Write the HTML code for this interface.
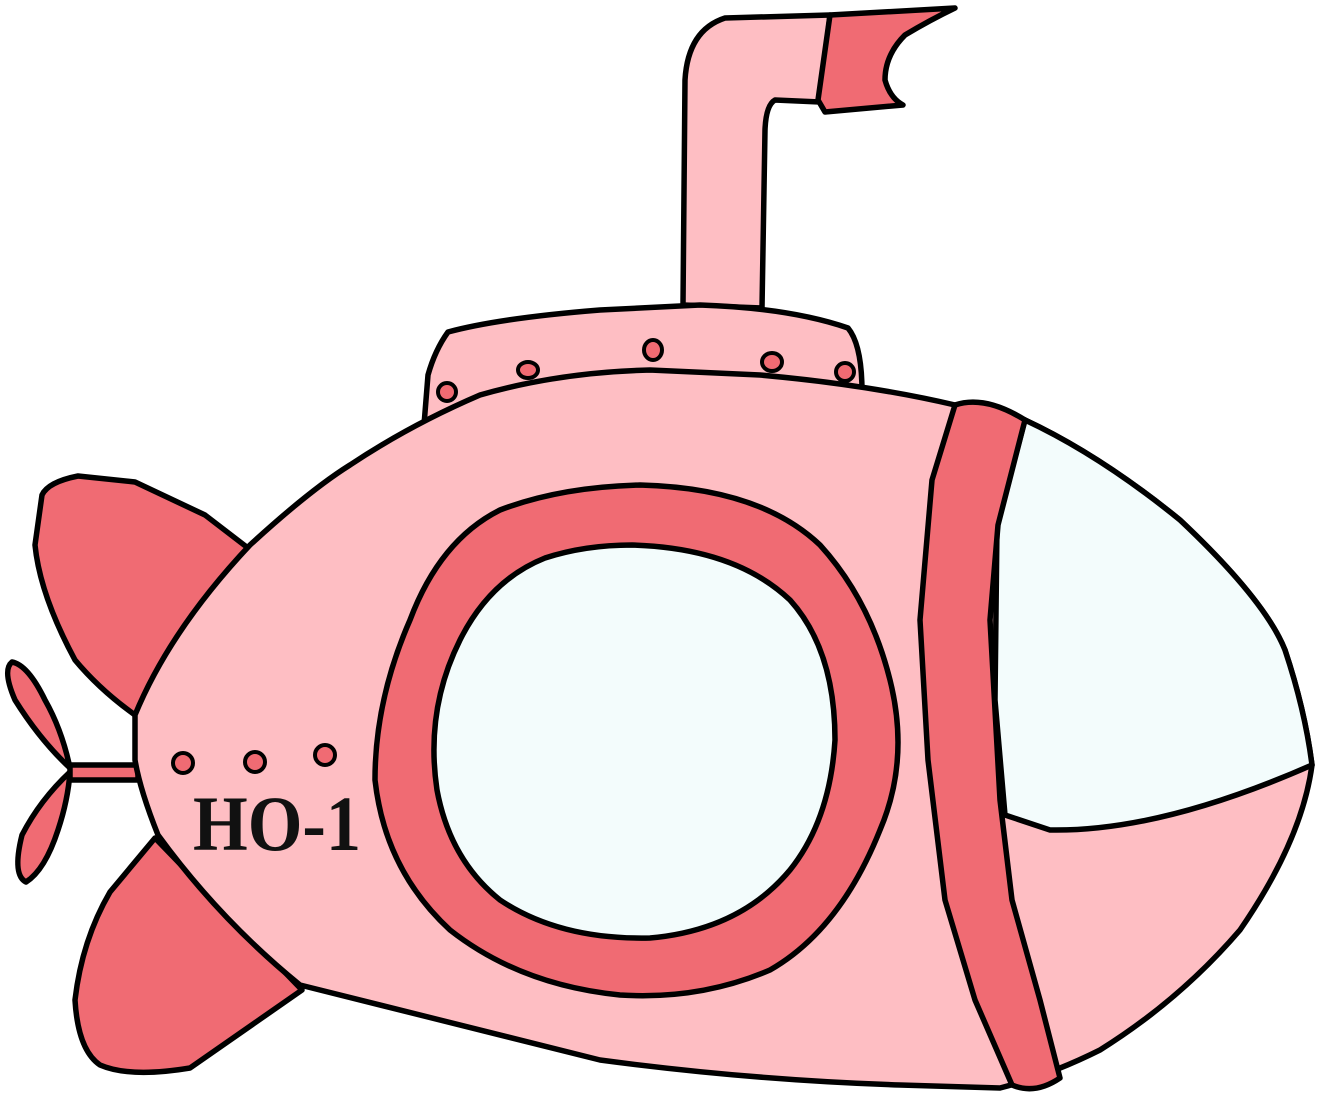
<!DOCTYPE html>
<html><head><meta charset="utf-8"><style>
html,body{margin:0;padding:0;background:#fff;}
svg{display:block;}
</style></head><body>
<svg width="1319" height="1116" viewBox="0 0 1319 1116" xmlns="http://www.w3.org/2000/svg">
<g stroke="#000" stroke-width="5.5" stroke-linejoin="round" stroke-linecap="round">
  <path fill="#FEBEC3" d="M683,305 L685,80 Q688,30 725,18 L830,15 L820,102 L775,100 Q766,105 765,130 L762,308 Z"/>
  <path fill="#F06B73" d="M830,15 L955,8 Q930,20 905,35 Q885,55 885,80 Q890,98 903,105 L825,112 L818,100 Z"/>
  <path fill="#FEBEC3" d="M424,425 L428,375 Q435,350 448,332 Q500,318 600,310 L700,305 Q790,308 848,328 Q862,345 862,392 Z"/>
  <path fill="#F06B73" d="M248,548 L205,515 L135,482 L78,476 Q48,482 42,495 L35,545 Q40,595 75,660 Q100,690 135,715 Z"/>
  <path fill="#F06B73" d="M155,838 L110,892 Q82,940 75,1000 Q78,1050 100,1065 Q130,1078 190,1068 L302,990 Z"/>
  <path fill="#F06B73" d="M70,768 Q40,740 15,700 Q2,670 12,662 Q28,665 45,700 Q62,730 70,768 Z"/>
  <path fill="#F06B73" d="M70,772 Q40,800 22,835 Q12,875 26,882 Q45,870 58,830 Q68,800 70,772 Z"/>
  <rect x="70" y="765" width="68" height="15" fill="#F06B73"/>
  <path fill="#FEBEC3" d="M135,715 Q170,630 250,545 Q310,490 350,465 Q410,425 480,395 Q560,372 650,370 L760,375 Q870,385 955,405 L1025,420 Q1100,455 1180,520 Q1265,600 1285,650 Q1305,710 1312,765 Q1302,840 1240,930 Q1180,1000 1100,1050 Q1050,1075 1000,1088 L900,1085 Q750,1080 600,1060 Q450,1022 300,985 Q220,920 158,835 Q140,790 135,760 Z"/>
  <path fill="#F3FCFC" d="M1025,420 Q1100,455 1180,520 Q1265,600 1285,650 Q1305,710 1312,765 Q1160,832 1050,830 L1005,815 L995,700 L997,525 Z"/>
  <path fill="#F06B73" d="M955,405 Q985,395 1025,420 L998,525 L990,620 L1000,800 L1012,900 L1040,1000 L1060,1078 Q1035,1095 1012,1085 L975,1000 L945,900 L928,760 L920,620 L932,480 Z"/>
  <path fill="#F06B73" d="M640,485 Q760,488 820,545 Q870,600 890,680 Q910,760 880,830 Q840,930 770,970 Q700,1000 620,995 Q520,985 450,930 Q385,870 375,780 Q375,700 410,620 Q440,540 500,510 Q560,487 640,485 Z"/>
  <path fill="#F3FCFC" d="M632,545 Q735,548 790,600 Q835,650 835,740 Q830,820 790,870 Q740,930 650,938 Q560,940 500,900 Q450,860 437,790 Q425,710 460,640 Q490,580 545,558 Q585,545 632,545 Z"/>
  <g fill="#F06B73" stroke-width="4">
    <ellipse cx="447" cy="392" rx="9" ry="9"/>
    <ellipse cx="528" cy="370" rx="10" ry="8"/>
    <ellipse cx="653" cy="350" rx="9" ry="10"/>
    <ellipse cx="772" cy="362" rx="10" ry="9"/>
    <ellipse cx="845" cy="372" rx="9" ry="9"/>
    <ellipse cx="183" cy="763" rx="10" ry="10"/>
    <ellipse cx="255" cy="762" rx="10" ry="10"/>
    <ellipse cx="325" cy="755" rx="10" ry="10"/>
  </g>
</g>
<text x="193" y="850" font-family="'Liberation Serif', serif" font-weight="bold" font-size="78" textLength="168" lengthAdjust="spacingAndGlyphs" fill="#111">HO-1</text>
</svg>
</body></html>
